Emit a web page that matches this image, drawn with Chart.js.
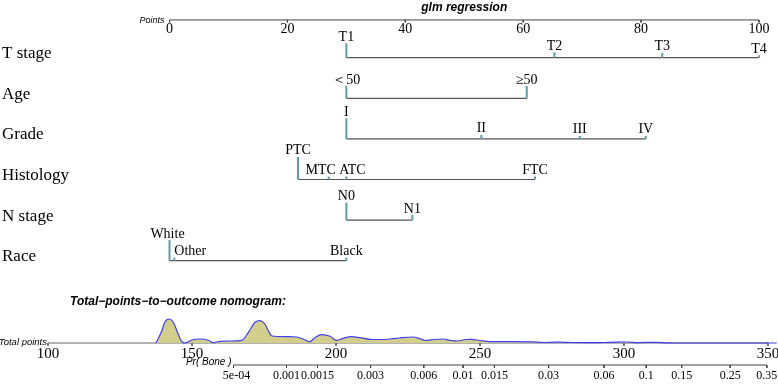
<!DOCTYPE html>
<html lang="en">
<head>
<meta charset="UTF-8">
<title>glm regression nomogram</title>
<script src="https://cdn.jsdelivr.net/npm/chart.js"></script>
<style>
  html, body { margin: 0; padding: 0; background: #fff; }
  #wrap { width: 778px; height: 390px; }
</style>
</head>
<body>
<div id="wrap"><canvas id="nomo"></canvas></div>
<script>
// ---- values ----
const varNames = ['T stage', 'Age', 'Grade', 'Histology', 'N stage', 'Race'];

// points per level, and spike height (frequency of the level)
const tLevels = ['T1', 'T2', 'T3', 'T4'];
const tPoints = [30, 65.3, 83.6, 100];
const tFreq   = [14.5, 5.5, 5, 2.5];

const ageLevels = ['＜50', '≥50'];
const agePoints = [30, 60.6];
const ageFreq   = [12.3, 12.3];

const gradeLevels = ['I', 'II', 'III', 'IV'];
const gradePoints = [30, 52.9, 69.6, 80.8];
const gradeFreq   = [20.7, 4, 3, 3];

const histLevels = ['PTC', 'MTC', 'ATC', 'FTC'];
const histPoints = [21.8, 27.0, 30, 62.0];
const histFreq   = [22.6, 3, 3, 3];

const nLevels = ['N0', 'N1'];
const nPoints = [30, 41.2];
const nFreq   = [17.3, 5];

const raceLevels = ['White', 'Other', 'Black'];
const racePoints = [0, 0.8, 30];
const raceFreq   = [20.7, 3, 3];

const pointTicks = [0, 20, 40, 60, 80, 100];
const totalTicks = [100, 150, 200, 250, 300, 350];
const probTicks  = [0.0005, 0.001, 0.0015, 0.003, 0.006, 0.01, 0.015, 0.03, 0.06, 0.1, 0.15, 0.25, 0.35];
const probLabels = ['5e-04', '0.001', '0.0015', '0.003', '0.006', '0.01', '0.015', '0.03', '0.06', '0.1', '0.15', '0.25', '0.35'];

// density of total points
const densTotal = [137.5, 139.5, 140.6, 142.1, 143.5, 145.2, 146.4, 147.6, 149.9, 152.8, 155.7, 157.4, 159.7, 163.2, 167.3,
  169.6, 171.9, 173.6, 175.3, 176.8, 177.6, 180, 183, 186.3, 188.6, 190.9, 192.7, 195, 197.9, 200.2, 202.5, 205.4, 208.3,
  211.8, 215, 219, 222, 226.5, 229, 231, 234, 237, 240, 242, 245, 247, 250, 253.5, 260, 268, 272, 277, 282, 289, 295,
  301, 305, 311, 315, 318, 353];
const densValue = [0, 12, 21, 24, 20.7, 9, 1.3, 0, 3, 4, 2.7, 0.3, 1.7, 2, 2.7,
  10.7, 20.7, 22.3, 19, 10.7, 7.3, 6.5, 6.3, 6, 4, 1.3, 5.3, 8.3, 6.7, 2.7, 4.7, 6.3, 5.3,
  3.7, 3.5, 4, 5, 6, 4.5, 2.5, 3.5, 4, 2.5, 2, 3.5, 3.7, 2.5, 1.3, 1.3, 1.2, 0.5, 0.8, 0.5, 0.3, 0.6,
  1, 0.4, 0.7, 0.2, 0, 0];

// ---- layout ----
const varData = [
  { levels: tLevels, pts: tPoints, freq: tFreq, nudge: [0, 0, 0, 0] },
  { levels: ageLevels, pts: agePoints, freq: ageFreq, nudge: [0, 0] },
  { levels: gradeLevels, pts: gradePoints, freq: gradeFreq, nudge: [0, 0, 0, 0] },
  { levels: histLevels, pts: histPoints, freq: histFreq, nudge: [0, -8, 6, 0] },
  { levels: nLevels, pts: nPoints, freq: nFreq, nudge: [0, 0] },
  { levels: raceLevels, pts: racePoints, freq: raceFreq, nudge: [-2, 16, 0] }
];
const POINTS_ROW = 0.07;
const ROW_PX = 40.6;
const SPIKE = 1 / ROW_PX;   // spike units -> row units
const PROB_AXIS = -22;      // on the density scale
const SERIF = '"Liberation Serif", "Times New Roman", serif';
const SANS = '"Liberation Sans", Arial, sans-serif';
const logit = p => Math.log(p / (1 - p));

const datasets = [];

// density first so it sits on top of the axis
datasets.push({
  data: densTotal.map((t, i) => ({ x: t, y: densValue[i] })),
  xAxisID: 'xt', yAxisID: 'yd',
  borderColor: '#3f3ff0', borderWidth: 1.2,
  backgroundColor: '#d3ce8c', fill: 'origin',
  cubicInterpolationMode: 'monotone'
});

// spikes
varData.forEach((v, i) => {
  const row = i + 1;
  const d = [];
  v.pts.forEach((p, j) => {
    d.push({ x: p, y: row }, { x: p, y: row - v.freq[j] * SPIKE }, { x: p, y: NaN });
  });
  datasets.push({ data: d, xAxisID: 'x', yAxisID: 'y', borderColor: '#5f9ea0', borderWidth: 2 });
});

// row lines
varData.forEach((v, i) => {
  const row = i + 1;
  datasets.push({
    data: [{ x: Math.min(...v.pts), y: row }, { x: Math.max(...v.pts), y: row }],
    xAxisID: 'x', yAxisID: 'y', borderColor: '#555', borderWidth: 1.2
  });
});

// points axis
const ptsAxis = [{ x: pointTicks[0], y: POINTS_ROW }, { x: pointTicks[pointTicks.length - 1], y: POINTS_ROW }, { x: 0, y: NaN }];
pointTicks.forEach(t => ptsAxis.push({ x: t, y: POINTS_ROW }, { x: t, y: POINTS_ROW + 2.5 * SPIKE }, { x: t, y: NaN }));
datasets.push({ data: ptsAxis, xAxisID: 'x', yAxisID: 'y', borderColor: '#444', borderWidth: 1 });

// total points axis
const totAxis = [{ x: totalTicks[0], y: 0 }, { x: totalTicks[totalTicks.length - 1], y: 0 }, { x: 0, y: NaN }];
totalTicks.forEach(t => totAxis.push({ x: t, y: 0 }, { x: t, y: -3 }, { x: t, y: NaN }));
datasets.push({ data: totAxis, xAxisID: 'xt', yAxisID: 'yd', borderColor: '#666', borderWidth: 1 });

// probability axis
const probAxis = [{ x: logit(probTicks[0]), y: PROB_AXIS }, { x: logit(probTicks[probTicks.length - 1]), y: PROB_AXIS }, { x: 0, y: NaN }];
probTicks.forEach(p => probAxis.push({ x: logit(p), y: PROB_AXIS }, { x: logit(p), y: PROB_AXIS - 3 }, { x: 0, y: NaN }));
datasets.push({ data: probAxis, xAxisID: 'xl', yAxisID: 'yd', borderColor: '#444', borderWidth: 1 });

const textPlugin = {
  id: 'nomoText',
  afterDatasetsDraw(chart) {
    const c = chart.ctx;
    const xs = chart.scales.x, ys = chart.scales.y;
    const xt = chart.scales.xt, xl = chart.scales.xl, yd = chart.scales.yd;
    c.save();
    c.fillStyle = '#000';
    c.textBaseline = 'alphabetic';

    // titles
    c.font = 'bold italic 12px ' + SANS;
    c.textAlign = 'center';
    c.fillText('glm regression', (xs.getPixelForValue(0) + xs.getPixelForValue(100)) / 2, 11);
    c.textAlign = 'left';
    c.fillText('Total\u2212points\u2212to\u2212outcome nomogram:', 70, yd.getPixelForValue(0) - 38.5);

    // points axis
    const pRow = ys.getPixelForValue(POINTS_ROW);
    c.font = 'italic 9px ' + SANS;
    c.textAlign = 'right';
    c.fillText('Points', xs.getPixelForValue(0) - 5, pRow + 3.5);
    c.font = '14px ' + SERIF;
    c.textAlign = 'center';
    pointTicks.forEach(t => c.fillText(String(t), xs.getPixelForValue(t), pRow + 12.7));

    // variable rows
    varData.forEach((v, i) => {
      const row = i + 1;
      c.font = '17px ' + SERIF;
      c.textAlign = 'left';
      c.fillText(varNames[i], 2, ys.getPixelForValue(row) + 0.5);
      c.font = '14px ' + SERIF;
      c.textAlign = 'center';
      v.levels.forEach((lab, j) => {
        const top = ys.getPixelForValue(row - v.freq[j] * SPIKE);
        c.fillText(lab, xs.getPixelForValue(v.pts[j]) + v.nudge[j], top - 2.5);
      });
    });

    // total points axis
    const tRow = yd.getPixelForValue(0);
    c.font = 'italic 9.5px ' + SANS;
    c.textAlign = 'right';
    c.fillText('Total points', xt.getPixelForValue(totalTicks[0]) - 1, tRow + 1.5);
    c.font = '15px ' + SERIF;
    c.textAlign = 'center';
    totalTicks.forEach(t => c.fillText(String(t), xt.getPixelForValue(t), tRow + 14.5));

    // probability axis
    const prRow = yd.getPixelForValue(PROB_AXIS);
    c.font = 'italic 10px ' + SANS;
    c.textAlign = 'right';
    c.fillText('Pr( Bone )', xl.getPixelForValue(logit(probTicks[0])) - 2, prRow - 0.5);
    c.font = '12px ' + SERIF;
    c.textAlign = 'center';
    probTicks.forEach((p, i) => c.fillText(probLabels[i], xl.getPixelForValue(logit(p)) + (i === 0 ? 3 : 0), prRow + 13.5));
    c.restore();
  }
};

new Chart(document.getElementById('nomo'), {
  type: 'scatter',
  data: { datasets },
  options: {
    responsive: true,
    maintainAspectRatio: false,
    animation: false,
    showLine: true,
    spanGaps: false,
    layout: { padding: 0 },
    elements: { point: { radius: 0, hoverRadius: 0 }, line: { tension: 0 } },
    plugins: { legend: { display: false }, tooltip: { enabled: false } },
    scales: {
      x:  { type: 'linear', display: false, min: -28.753, max: 103.223 },
      xt: { type: 'linear', display: false, min: 83.333, max: 353.472 },
      xl: { type: 'linear', display: false, min: -10.6567, max: -0.4733 },
      y:  { type: 'linear', display: false, reverse: true, min: -0.4212, max: 9.1847 },
      yd: { type: 'linear', display: false, min: -47, max: 343 }
    }
  },
  plugins: [textPlugin]
});
</script>
</body>
</html>
